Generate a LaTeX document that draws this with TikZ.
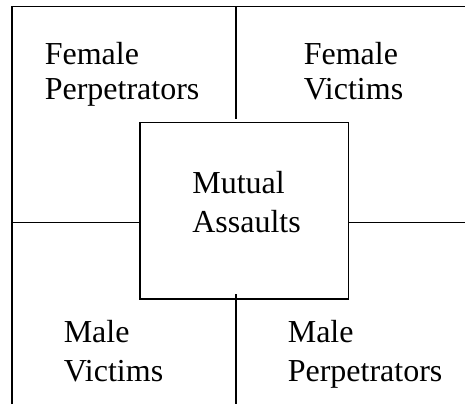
\documentclass[tikz,border=0pt]{standalone}
\usepackage{fontspec}
\setmainfont{Liberation Serif}

\begin{document}
\begin{tikzpicture}[x=1pt,y=-1pt,line width=1.6pt,
        quad label/.style={align=left,anchor=base west,inner sep=0pt,font=\fontsize{32}{34.7}\selectfont},
        wide label/.style={quad label,font=\fontsize{32}{38.8}\selectfont}]
        \useasboundingbox (0,0) rectangle (465,404);

        % frame
        \coordinate (TL) at (12,6.5);
        \coordinate (TR) at (465,6.5);
        \coordinate (BL) at (12,404);
        \draw (BL) -- (TL) -- (TR);

        % nodes (anchored at the baseline of the last line)
        \node[draw, minimum width=208.6pt, minimum height=176.5pt, inner sep=0pt] (box) at (244,210.75) {};
        \node[wide label] (mutual) at (191.5,232.5) {Mutual\\Assaults};
        \node[quad label] (fperp) at (44,99) {Female\\Perpetrators};
        \node[quad label] (fvict) at (303,99.5) {Female\\Victims};
        \node[wide label] (mvict) at (63,381.7) {Male\\Victims};
        \node[wide label] (mperp) at (287,381.7) {Male\\Perpetrators};

        % dividers
        \coordinate (topmid) at (236,6.5);
        \coordinate (topend) at (236,119.3);
        \coordinate (botend) at (236,294.3);
        \coordinate (botmid) at (236,404);
        \coordinate (leftmid) at (12,222.3);
        \coordinate (rightmid) at (465,222.3);
        \draw (topmid) -- (topend);
        \draw (botend) -- (botmid);
        \draw (leftmid) -- (leftmid -| box.west);
        \draw (box.east |- rightmid) -- (rightmid);

\end{tikzpicture}
\end{document}
